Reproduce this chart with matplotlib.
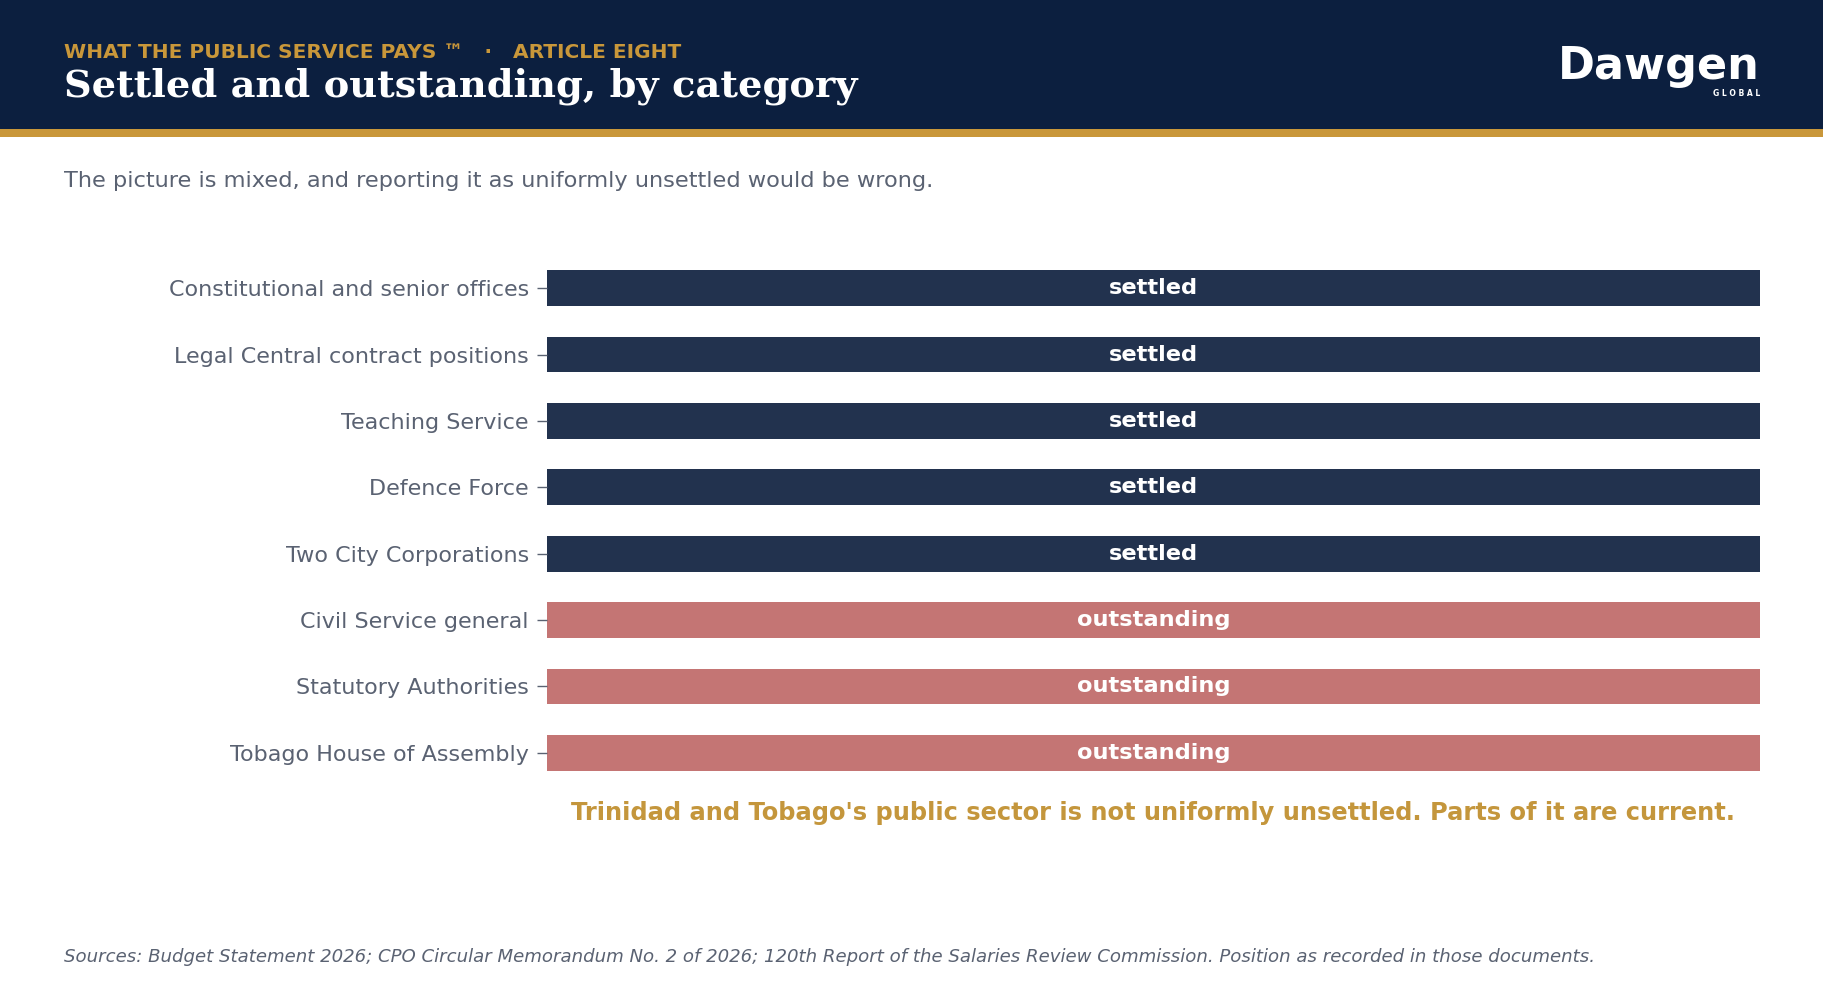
import matplotlib
matplotlib.use("Agg")
import matplotlib.pyplot as plt
from matplotlib.patches import Rectangle

# data
categories = [
    "Constitutional and senior offices",
    "Legal Central contract positions",
    "Teaching Service",
    "Defence Force",
    "Two City Corporations",
    "Civil Service general",
    "Statutory Authorities",
    "Tobago House of Assembly",
]
status = ["settled", "settled", "settled", "settled", "settled",
          "outstanding", "outstanding", "outstanding"]
bar_len = [1, 1, 1, 1, 1, 1, 1, 1]

kicker = "WHAT THE PUBLIC SERVICE PAYS \u2122   \u00b7   ARTICLE EIGHT"
title = "Settled and outstanding, by category"
subtitle = "The picture is mixed, and reporting it as uniformly unsettled would be wrong."
callout = "Trinidad and Tobago's public sector is not uniformly unsettled. Parts of it are current."
source = ("Sources: Budget Statement 2026; CPO Circular Memorandum No. 2 of 2026; "
          "120th Report of the Salaries Review Commission. Position as recorded in those documents.")

NAVY = "#0c1f3f"
BAR_NAVY = "#22324e"
BAR_RED = "#c47574"
GOLD = "#c9973a"
GOLD_TXT = "#c4963c"
GREY = "#5a6272"
colors = {"settled": BAR_NAVY, "outstanding": BAR_RED}

W, H = 1824, 988
fig = plt.figure(figsize=(W / 100, H / 100), dpi=100)
fig.patch.set_facecolor("white")

def fx(px):
    return px / W

def fy(py):
    return 1 - py / H

# header band + gold rule
fig.add_artist(Rectangle((0, fy(129)), 1, 129 / H, transform=fig.transFigure,
                         facecolor=NAVY, edgecolor="none", zorder=0))
fig.add_artist(Rectangle((0, fy(137)), 1, 8 / H, transform=fig.transFigure,
                         facecolor=GOLD, edgecolor="none", zorder=0))

fig.text(fx(64), fy(52), kicker, color=GOLD, fontsize=14.5, fontweight="bold",
         va="center", ha="left")
fig.text(fx(64), fy(86), title, color="white", fontsize=27.6, fontweight="bold",
         family="DejaVu Serif", va="center", ha="left")

# logo as text
fig.text(fx(1760), fy(66), "Dawgen", color="white", fontsize=32, fontweight="bold",
         va="center", ha="right")
fig.text(fx(1760), fy(93), "G L O B A L", color="white", fontsize=5.5,
         fontweight="bold", va="center", ha="right")

fig.text(fx(64), fy(181), subtitle, color=GREY, fontsize=16.2, va="center", ha="left")

# bars
ax = fig.add_axes([fx(547), fy(786), fx(1760) - fx(547), (786 - 255) / H])
y = list(range(len(categories)))
ax.barh(y, bar_len, height=0.54, color=[colors[s] for s in status])
for i, s in enumerate(status):
    ax.text(0.5, i, s, color="white", fontsize=16.2, fontweight="bold",
            ha="center", va="center")
ax.set_xlim(0, 1)
ax.set_ylim(len(categories) - 0.5, -0.5)
ax.set_yticks(y)
ax.set_yticklabels(categories, fontsize=16, color=GREY)
ax.tick_params(axis="y", length=7, width=1, color=GREY, pad=6)
ax.set_xticks([])
for sp in ax.spines.values():
    sp.set_visible(False)

fig.text(fx(1153), fy(813), callout, color=GOLD_TXT, fontsize=17.4, fontweight="bold",
         ha="center", va="center")
fig.text(fx(64), fy(957), source, color=GREY, fontsize=13.1, style="italic",
         ha="left", va="center")

fig.savefig("out.png", dpi=100)
